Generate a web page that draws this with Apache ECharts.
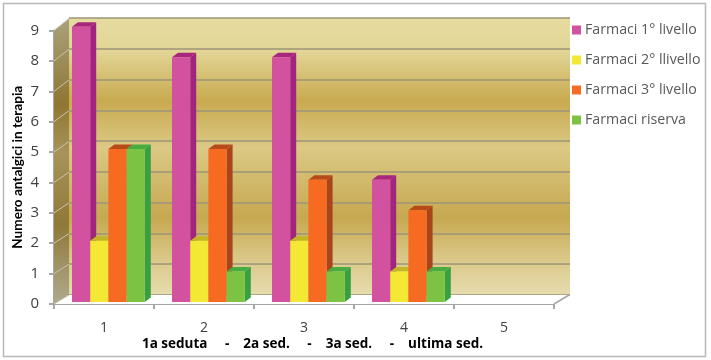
<!DOCTYPE html>
<html>
<head>
<meta charset="utf-8">
<style>html,body{margin:0;padding:0;background:#fff}#c{width:711px;height:360px}</style>
<script src="https://cdn.jsdelivr.net/npm/echarts@6/dist/echarts.min.js"></script>
</head>
<body>
<div id="c"></div>
<script>
const categories = ['1','2','3','4','5'];
const farmaci1 = [9,8,8,4,null];
const farmaci2 = [2,2,2,1,null];
const farmaci3 = [5,5,4,3,null];
const riserva  = [5,1,1,1,null];
const names = ['Farmaci 1° livello','Farmaci 2° llivello','Farmaci 3° livello','Farmaci riserva'];
const values = [farmaci1,farmaci2,farmaci3,riserva];
const faces = [
  {front:'#d2529f',side:'#a1247f',top:'#a9267f'},
  {front:'#f3e833',side:'#c0b020',top:'#c4b524'},
  {front:'#f66b21',side:'#a8451a',top:'#b84a1a'},
  {front:'#7cc343',side:'#38a040',top:'#48ad40'}
];
const yMax = 9;
const font = 'Open Sans';
const barW = 18.2, barStart = -32, dx = 6, dy = -4.5;
const depthX = 15, depthY = -9;
const LINE = '#a6a6a6';

const chart = echarts.init(document.getElementById('c'),null,{renderer:'canvas'});

function barRender(si){
  return function(params, api){
    const v = api.value(1);
    if (v==null || isNaN(v)) return null;
    const top = api.coord([api.value(0), v]);
    const base = api.coord([api.value(0), 0]);
    const x = top[0] + barStart + si*barW;
    const x2 = x + barW, t = top[1], b = base[1];
    const f = faces[si];
    return {type:'group',children:[
      {type:'polygon',shape:{points:[[x2,t],[x2+dx,t+dy],[x2+dx,b+dy],[x2,b]]},style:{fill:f.side}},
      {type:'polygon',shape:{points:[[x,t],[x+dx,t+dy],[x2+dx,t+dy],[x2,t]]},style:{fill:f.top}},
      {type:'rect',shape:{x:x,y:t,width:barW,height:b-t},style:{fill:f.front}}
    ]};
  };
}
const barSeries = names.map((n,si)=>({
  name:n,type:'custom',xAxisIndex:2,yAxisIndex:2,z:5+si,
  itemStyle:{color:faces[si].front},
  renderItem:barRender(si),
  encode:{x:0,y:1},
  data:categories.map((c,i)=>[i,values[si][i]])
}));

const sideGrad = new echarts.graphic.LinearGradient(0,0,0,1,[
  {offset:0,color:'#aaa27c'},{offset:.3,color:'#8f7632'},{offset:.47,color:'#a8945a'},
  {offset:.72,color:'#8f7838'},{offset:1,color:'#b0aa8e'}]);
const decor = {
  type:'custom',xAxisIndex:0,yAxisIndex:0,z:1,silent:true,
  data:[[0,0]],encode:{x:0,y:1},
  renderItem:function(params,api){
    const g = params.coordSys;
    const L=g.x,R=g.x+g.width,T=g.y,B=g.y+g.height;
    const kids=[
      {type:'polygon',shape:{points:[[L,B],[L+depthX,B+depthY],[R+depthX,B+depthY],[R,B]]},style:{fill:'#fff'}},
      {type:'polygon',shape:{points:[[L,T],[L+depthX,T-12],[L+depthX,B+depthY],[L,B]]},style:{fill:sideGrad}},
      {type:'line',shape:{x1:R,y1:B,x2:R+depthX,y2:B+depthY},style:{stroke:LINE,lineWidth:1.5}}
    ];
    for(let i=0;i<=yMax;i++){
      const y=api.coord([0,i])[1];
      kids.push({type:'line',shape:{x1:L,y1:y,x2:L+depthX,y2:y+depthY-3*i/yMax},style:{stroke:'#c8c4b0',lineWidth:1}});
    }
    return {type:'group',children:kids};
  }
};

chart.setOption({
  animation:false,
  backgroundColor:'#fff',
  textStyle:{fontFamily:font},
  graphic:[{type:'rect',z:-10,shape:{x:3.5,y:3.5,width:702,height:353},style:{fill:'#fff',stroke:'#b8b8b8',lineWidth:1.5}}],
  legend:{
    orient:'vertical',left:567,top:16,itemWidth:9,itemHeight:9,itemGap:12,icon:'rect',
    data:names,
    textStyle:{fontFamily:font,fontSize:14.2,color:'#595959',padding:[0,0,0,-1],lineHeight:18}
  },
  grid:[
    {left:54,top:30.5,width:500,height:273.5,outerBoundsMode:'none'},
    {left:69,top:18,width:501,height:277,show:true,borderWidth:0,z:0,outerBoundsMode:'none',
     backgroundColor:new echarts.graphic.LinearGradient(0,0,0,1,[
      {offset:0,color:'#e6dba0'},{offset:.12,color:'#e2d596'},{offset:.3,color:'#c8aa50'},
      {offset:.47,color:'#dcc985'},{offset:.72,color:'#c6a850'},{offset:.88,color:'#dcca8c'},{offset:1,color:'#e6dcae'}])},
    {left:54,top:26.7,width:500,height:275.3,outerBoundsMode:'none'}
  ],
  xAxis:[
    {gridIndex:0,type:'category',data:categories,
     name:'1a seduta     -    2a sed.     -    3a sed.     -    ultima sed.',nameLocation:'middle',nameGap:33,
     nameMoveOverlap:false,
     nameTextStyle:{fontFamily:font,fontWeight:'bold',fontSize:13.5,color:'#000',padding:[0,0,0,17]},
     axisLine:{show:true,lineStyle:{color:LINE,width:2}},
     axisTick:{show:true,length:5,lineStyle:{color:LINE,width:2}},
     axisLabel:{fontFamily:font,fontSize:14,color:'#404040',margin:17},
     splitLine:{show:false}},
    {gridIndex:1,type:'category',data:categories,show:false},
    {gridIndex:2,type:'category',data:categories,show:false}
  ],
  yAxis:[
    {gridIndex:0,type:'value',min:0,max:yMax,interval:1,
     name:'Numero antalgici in terapia',nameLocation:'middle',nameGap:29,nameRotate:90,
     nameMoveOverlap:false,
     nameTextStyle:{fontFamily:'Lato',fontWeight:'bold',fontSize:13.6,color:'#000'},
     axisLine:{show:true,lineStyle:{color:LINE,width:2}},
     axisTick:{show:true,length:5,lineStyle:{color:LINE,width:2}},
     axisLabel:{fontFamily:font,fontSize:15,color:'#404040',margin:15},
     splitLine:{show:false}},
    {gridIndex:1,type:'value',min:0,max:yMax,interval:1,
     axisLine:{show:false},axisTick:{show:false},axisLabel:{show:false},
     splitLine:{show:true,lineStyle:{color:'#9c9478',width:1.5}}},
    {gridIndex:2,type:'value',min:0,max:yMax,interval:1,show:false,splitLine:{show:false}}
  ],
  series:[decor].concat(barSeries)
});
</script>
</body>
</html>
